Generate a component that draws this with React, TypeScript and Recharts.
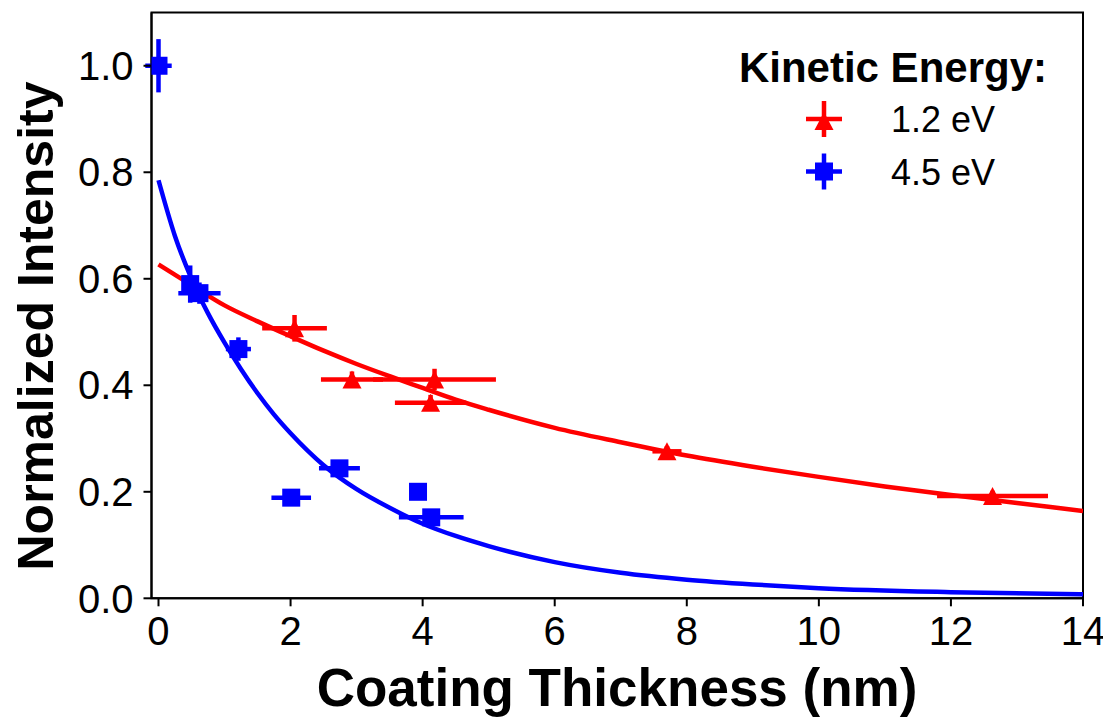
import React from 'react';
import { ComposedChart, Line, Scatter, XAxis, YAxis, ErrorBar, Customized, ReferenceArea } from 'recharts';

// ---- data ----
const redX = [2.06, 2.93, 4.18, 4.12, 7.7, 12.63];
const redY = [0.507, 0.411, 0.411, 0.367, 0.276, 0.192];
const redXErr = [0.49, 0.47, 0.93, 0.54, 0.22, 0.84];
const redYErr = [0.025, 0.015, 0.02, 0.015, 0.01, 0.01];

const blueX = [0, 0.48, 0.62, 1.21, 2.01, 2.74, 3.93, 4.13];
const blueY = [1.0, 0.59, 0.573, 0.468, 0.189, 0.244, 0.2, 0.152];
const blueXErr = [0.2, 0.1, 0.32, 0.19, 0.3, 0.31, 0, 0.49];
const blueYErr = [0.05, 0.035, 0.02, 0.022, 0, 0, 0, 0];

const redFitX = [0, 0.5, 1, 1.5, 2, 2.5, 3, 3.5, 4, 4.5, 5, 6, 7, 8, 9, 10, 11, 12, 13, 14];
const redFitY = [0.627, 0.588, 0.55, 0.52, 0.492, 0.465, 0.44, 0.417, 0.395, 0.373, 0.354, 0.32, 0.293, 0.268, 0.247, 0.228, 0.21, 0.194, 0.179, 0.164];

const blueFitX = [0, 0.25, 0.5, 0.75, 1, 1.25, 1.5, 1.75, 2, 2.5, 3, 3.5, 4, 4.5, 5, 6, 7, 8, 9, 10, 12, 14];
const blueFitY = [0.785, 0.68, 0.6, 0.535, 0.48, 0.43, 0.385, 0.345, 0.31, 0.25, 0.205, 0.17, 0.14, 0.117, 0.098, 0.068, 0.048, 0.035, 0.026, 0.019, 0.0115, 0.0075];

const xDomain = [-0.106, 14];
const yDomain = [0, 1.1];
const xTicks = [0, 2, 4, 6, 8, 10, 12, 14];
const yTicks = [0, 0.2, 0.4, 0.6, 0.8, 1.0];
const seriesNames = ['1.2 eV', '4.5 eV'];
const legendTitle = 'Kinetic Energy:';
const xTitle = 'Coating Thickness (nm)';
const yTitle = 'Normalized Intensity';

const RED = '#ff0000';
const BLUE = '#0000ff';
const FONT = "'Liberation Sans', Arial, Helvetica, sans-serif";
const LW = 4.5;

const redData = redX.map((x, i) => ({ x, y: redY[i], ex: redXErr[i], ey: redYErr[i] }));
const blueData = blueX.map((x, i) => ({ x, y: blueY[i], ex: blueXErr[i], ey: blueYErr[i] }));
const redFit = redFitX.map((x, i) => ({ x, y: redFitY[i] }));
const blueFit = blueFitX.map((x, i) => ({ x, y: blueFitY[i] }));

const Tri = (props: any) => {
  const { cx, cy, fill } = props;
  const w = 9.5, h = 9;
  return <polygon points={`${cx},${cy - h} ${cx - w},${cy + h} ${cx + w},${cy + h}`} fill={fill || RED} />;
};
const Sq = (props: any) => {
  const { cx, cy, fill } = props;
  const s = 9;
  return <rect x={cx - s} y={cy - s} width={2 * s} height={2 * s} fill={fill || BLUE} />;
};

const Overlay = () => (
  <g fontFamily={FONT}>
    <text x={1039} y={74} textAnchor="end" fontSize={42} fontWeight="bold" fill="#000">{legendTitle}</text>
    <g>
      <line x1={798} x2={834} y1={111} y2={111} stroke={RED} strokeWidth={LW} />
      <line x1={816} x2={816} y1={93} y2={129} stroke={RED} strokeWidth={LW} />
      <Tri cx={816} cy={113} fill={RED} />
      <text x={883} y={124} fontSize={36} fill="#000">{seriesNames[0]}</text>
    </g>
    <g>
      <line x1={798} x2={834} y1={163.5} y2={163.5} stroke={BLUE} strokeWidth={LW} />
      <line x1={816} x2={816} y1={145.5} y2={181.5} stroke={BLUE} strokeWidth={LW} />
      <Sq cx={816} cy={163.5} fill={BLUE} />
      <text x={883} y={177} fontSize={36} fill="#000">{seriesNames[1]}</text>
    </g>
    <text x={609} y={698} textAnchor="middle" fontSize={53} fontWeight="bold" fill="#000">{xTitle}</text>
    <text x={0} y={0} transform="translate(45,318) rotate(-90)" textAnchor="middle" fontSize={50} fontWeight="bold" fill="#000">{yTitle}</text>
  </g>
);

export default function App() {
  const tickStyle = { fill: '#000', fontSize: 40, fontFamily: FONT };
  return (
    <div style={{ width: 1103, height: 709, background: '#fff' }}>
      <ComposedChart width={1103} height={709} margin={{ top: 4.5, right: 28, bottom: 0, left: 0 }}>
        <XAxis
          dataKey="x"
          type="number"
          domain={xDomain}
          allowDataOverflow
          ticks={xTicks}
          tickFormatter={(v: number) => String(v)}
          height={118.7}
          tickSize={8}
          tickMargin={10}
          tick={tickStyle}
          tickLine={{ stroke: '#000', strokeWidth: 2 }}
          axisLine={{ stroke: '#000', strokeWidth: 2 }}
          interval={0}
        />
        <YAxis
          dataKey="y"
          type="number"
          domain={yDomain}
          allowDataOverflow
          ticks={yTicks}
          tickFormatter={(v: number) => v.toFixed(1)}
          width={143.5}
          tickSize={8}
          tickMargin={10}
          tick={tickStyle}
          tickLine={{ stroke: '#000', strokeWidth: 2 }}
          axisLine={{ stroke: '#000', strokeWidth: 2 }}
          interval={0}
        />
        <ReferenceArea
          x1={xDomain[0]}
          x2={xDomain[1]}
          y1={yDomain[0]}
          y2={yDomain[1]}
          fill="none"
          fillOpacity={0}
          stroke="#000"
          strokeWidth={2}
          ifOverflow="visible"
        />
        <Line data={redFit} dataKey="y" type="monotone" stroke={RED} strokeWidth={LW} dot={false} activeDot={false} isAnimationActive={false} />
        <Line data={blueFit} dataKey="y" type="monotone" stroke={BLUE} strokeWidth={LW} dot={false} activeDot={false} isAnimationActive={false} />
        <Scatter data={redData} dataKey="y" fill={RED} shape={<Tri />} isAnimationActive={false}>
          <ErrorBar dataKey="ex" direction="x" width={0} stroke={RED} strokeWidth={LW} isAnimationActive={false} />
          <ErrorBar dataKey="ey" direction="y" width={0} stroke={RED} strokeWidth={LW} isAnimationActive={false} />
        </Scatter>
        <Scatter data={blueData} dataKey="y" fill={BLUE} shape={<Sq />} isAnimationActive={false}>
          <ErrorBar dataKey="ex" direction="x" width={0} stroke={BLUE} strokeWidth={LW} isAnimationActive={false} />
          <ErrorBar dataKey="ey" direction="y" width={0} stroke={BLUE} strokeWidth={LW} isAnimationActive={false} />
        </Scatter>
        <Customized component={Overlay} />
      </ComposedChart>
    </div>
  );
}
